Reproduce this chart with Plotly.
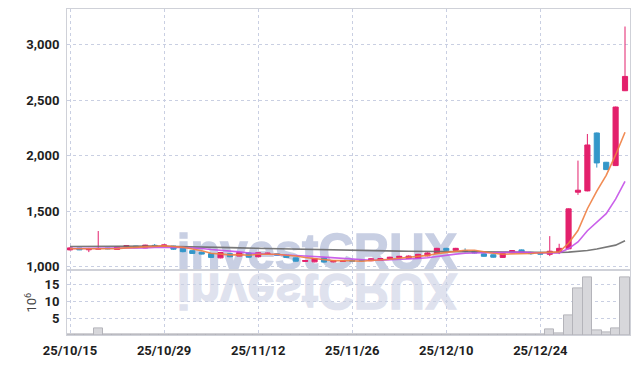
import base64
import plotly.graph_objects as go
from plotly.subplots import make_subplots

# ---------------- data ----------------
dates = [
    "25/10/15", "25/10/16", "25/10/17", "25/10/20", "25/10/21", "25/10/22", "25/10/23", "25/10/24",
    "25/10/27", "25/10/28", "25/10/29", "25/10/30", "25/10/31",
    "25/11/03", "25/11/04", "25/11/05", "25/11/06", "25/11/07", "25/11/10", "25/11/11", "25/11/12",
    "25/11/13", "25/11/14", "25/11/17", "25/11/18", "25/11/19", "25/11/20", "25/11/21", "25/11/24",
    "25/11/25", "25/11/26", "25/11/27", "25/11/28",
    "25/12/01", "25/12/02", "25/12/03", "25/12/04", "25/12/05", "25/12/08", "25/12/09", "25/12/10",
    "25/12/11", "25/12/12", "25/12/15", "25/12/16", "25/12/17", "25/12/18", "25/12/19", "25/12/22",
    "25/12/23", "25/12/24", "25/12/26", "25/12/29", "25/12/30",
    "26/01/02", "26/01/05", "26/01/06", "26/01/07", "26/01/08", "26/01/09",
]
opens = [1152, 1168, 1153, 1158, 1168, 1156, 1182, 1186, 1170, 1193,
         1192, 1186, 1166, 1145, 1130, 1118, 1080, 1118, 1096, 1124,
         1090, 1116, 1116, 1104, 1080, 1048, 1044, 1078, 1044, 1048,
         1058, 1058, 1054, 1056, 1072, 1082, 1074, 1074, 1098, 1120,
         1166, 1148, 1144, 1140, 1116, 1108, 1084, 1126, 1152, 1130,
         1122, 1112, 1134, 1162, 1672, 1684, 2206, 1942, 1912, 2587]
highs = [1175, 1170, 1170, 1322, 1170, 1180, 1195, 1188, 1198, 1205,
         1200, 1188, 1170, 1148, 1134, 1120, 1132, 1122, 1132, 1128,
         1130, 1126, 1120, 1108, 1082, 1060, 1078, 1082, 1058, 1056,
         1066, 1064, 1076, 1078, 1090, 1098, 1102, 1116, 1130, 1170,
         1170, 1170, 1166, 1144, 1120, 1110, 1124, 1150, 1156, 1134,
         1126, 1276, 1207, 1526, 1957, 2197, 2210, 1945, 2444, 3166]
lows = [1148, 1150, 1132, 1155, 1158, 1152, 1180, 1170, 1168, 1185,
        1190, 1152, 1130, 1115, 1110, 1080, 1076, 1086, 1094, 1082,
        1086, 1112, 1100, 1080, 1046, 1044, 1040, 1038, 1040, 1044,
        1046, 1048, 1050, 1052, 1068, 1078, 1070, 1070, 1094, 1116,
        1144, 1144, 1130, 1120, 1090, 1082, 1080, 1122, 1128, 1108,
        1110, 1096, 1114, 1158, 1648, 1680, 1894, 1872, 1908, 2584]
closes = [1170, 1152, 1157, 1165, 1162, 1178, 1190, 1172, 1195, 1188,
          1196, 1158, 1136, 1120, 1114, 1084, 1128, 1090, 1128, 1086,
          1126, 1122, 1104, 1084, 1050, 1056, 1074, 1042, 1054, 1052,
          1050, 1054, 1072, 1074, 1086, 1094, 1096, 1112, 1124, 1166,
          1148, 1166, 1140, 1124, 1094, 1086, 1120, 1146, 1132, 1118,
          1114, 1140, 1166, 1522, 1690, 2098, 1936, 1876, 2440, 2716]
ma5 = [1162, 1162, 1160, 1160, 1161, 1163, 1170, 1173, 1179, 1185,
       1188, 1182, 1175, 1160, 1145, 1122, 1116, 1107, 1109, 1103,
       1112, 1110, 1113, 1104, 1097, 1083, 1074, 1061, 1055, 1056,
       1054, 1050, 1056, 1060, 1067, 1076, 1084, 1092, 1102, 1118,
       1129, 1143, 1149, 1149, 1134, 1122, 1113, 1114, 1116, 1120,
       1126, 1130, 1134, 1212, 1326, 1523, 1682, 1824, 2008, 2213]
ma10 = [1165, 1165, 1164, 1164, 1165, 1166, 1167, 1168, 1170, 1173,
        1176, 1176, 1174, 1170, 1165, 1155, 1149, 1141, 1134, 1124,
        1117, 1113, 1110, 1107, 1100, 1097, 1092, 1087, 1080, 1076,
        1069, 1062, 1059, 1058, 1061, 1065, 1067, 1074, 1081, 1093,
        1103, 1114, 1121, 1126, 1126, 1126, 1128, 1131, 1132, 1127,
        1124, 1121, 1124, 1164, 1223, 1325, 1406, 1479, 1610, 1770]
ma60 = [1183, 1184, 1184, 1185, 1185, 1186, 1186, 1186, 1186, 1186,
        1185, 1184, 1182, 1180, 1178, 1176, 1174, 1172, 1170, 1168,
        1166, 1164, 1162, 1160, 1158, 1156, 1154, 1152, 1150, 1148,
        1147, 1146, 1145, 1144, 1142, 1141, 1140, 1139, 1138, 1137,
        1136, 1135, 1134, 1133, 1132, 1131, 1130, 1129, 1128, 1127,
        1126, 1126, 1128, 1132, 1138, 1147, 1160, 1175, 1195, 1234]
volume = [0.1, 0.1, 0.1, 2.0, 0.1, 0.1, 0.1, 0.1, 0.1, 0.1,
          0.1, 0.1, 0.1, 0.1, 0.1, 0.1, 0.1, 0.1, 0.1, 0.1,
          0.1, 0.1, 0.1, 0.1, 0.1, 0.1, 0.1, 0.1, 0.1, 0.1,
          0.1, 0.1, 0.1, 0.1, 0.1, 0.1, 0.1, 0.1, 0.1, 0.1,
          0.1, 0.1, 0.1, 0.1, 0.1, 0.1, 0.1, 0.1, 0.1, 0.1,
          0.1, 1.8, 0.6, 5.9, 13.8, 17.3, 1.4, 0.9, 2.0, 17.3]
date_ticks = ["25/10/15", "25/10/29", "25/11/12", "25/11/26", "25/12/10", "25/12/24"]
price_ticks = [1000, 1500, 2000, 2500, 3000]
volume_ticks = [5, 10, 15]

# ---------------- styles ----------------
RED = "#e3206c"
BLUE = "#3497c9"
GRID = "#c9cfe2"
FRAME = "#cfd1d8"
TICKFONT = dict(family="Roboto, sans-serif", size=13, color="#1e1e1e", weight="bold")

fig = make_subplots(rows=2, cols=1, shared_xaxes=True, vertical_spacing=0,
                    row_heights=[263, 65])

fig.add_trace(go.Candlestick(
    x=dates, open=opens, high=highs, low=lows, close=closes,
    increasing=dict(line=dict(color=RED, width=1), fillcolor=RED),
    decreasing=dict(line=dict(color=BLUE, width=1), fillcolor=BLUE),
    whiskerwidth=0, showlegend=False, hoverinfo="skip"), row=1, col=1)

for vals, col in [(ma60, "rgba(105,105,105,0.9)"), (ma10, "rgba(196,80,232,0.9)"),
                  (ma5, "rgba(240,128,66,0.9)")]:
    fig.add_trace(go.Scatter(x=dates, y=vals, mode="lines",
                             line=dict(color=col, width=1.6),
                             showlegend=False, hoverinfo="skip"), row=1, col=1)

fig.add_trace(go.Bar(x=dates, y=volume,
                     marker=dict(color="#d7d7db", line=dict(color="#b4b4ba", width=1)),
                     showlegend=False, hoverinfo="skip"), row=2, col=1)

# watermark with reflection
svg = (
    '<svg xmlns="http://www.w3.org/2000/svg" width="290" height="90" viewBox="0 0 290 90">'
    '<g font-family="Liberation Sans, Arial, sans-serif" font-weight="bold" font-size="50">'
    '<text x="3" y="43" textLength="281" lengthAdjust="spacingAndGlyphs" '
    'stroke="#c8cfe3" stroke-width="1.4" fill="#c8cfe3">investCRUX</text>'
    '<g transform="translate(0,91) scale(1,-1)">'
    '<text x="3" y="43" textLength="281" lengthAdjust="spacingAndGlyphs" '
    'stroke="#dfe2ee" stroke-width="1.4" fill="#dfe2ee">investCRUX</text>'
    '</g></g></svg>'
)
src = "data:image/svg+xml;base64," + base64.b64encode(svg.encode()).decode()
fig.add_layout_image(dict(source=src, xref="paper", yref="paper",
                          x=(174 - 67) / 564, y=(337 - 228) / 328,
                          sizex=290 / 564, sizey=90 / 328,
                          xanchor="left", yanchor="top", sizing="stretch",
                          layer="below"))

xcommon = dict(type="category", range=[-0.32, 59.53], tickmode="array",
               tickvals=date_ticks, showgrid=True, gridcolor=GRID, griddash="dot",
               gridwidth=1, showline=True, mirror=True, linecolor=FRAME, linewidth=1,
               zeroline=False, fixedrange=True)
fig.update_xaxes(**xcommon)
fig.update_xaxes(showticklabels=False, rangeslider_visible=False, row=1, col=1)
fig.update_xaxes(showticklabels=True, ticks="outside", ticklen=3,
                 tickcolor="rgba(0,0,0,0)", tickfont=TICKFONT, tickangle=0, row=2, col=1)

ycommon = dict(showgrid=True, gridcolor=GRID, griddash="dot", gridwidth=1,
               showline=True, mirror=True, linecolor=FRAME, linewidth=1,
               zeroline=False, ticks="outside", ticklen=4, tickcolor="rgba(0,0,0,0)",
               tickfont=TICKFONT, fixedrange=True)
fig.update_yaxes(**ycommon)
fig.update_yaxes(range=[967, 3324], tickvals=price_ticks, tickformat=",", row=1, col=1)
fig.update_yaxes(range=[0, 19.24], tickvals=volume_ticks,
                 title=dict(text="10<sup>6</sup>", standoff=4,
                            font=dict(family="Roboto, sans-serif", size=13, color="#444444")),
                 row=2, col=1)

fig.update_layout(width=639, height=366, margin=dict(l=67, r=8, t=9, b=29),
                  paper_bgcolor="white", plot_bgcolor="white", bargap=0, boxgap=0.22,
                  showlegend=False, hovermode=False)

fig.write_html("out.html")
